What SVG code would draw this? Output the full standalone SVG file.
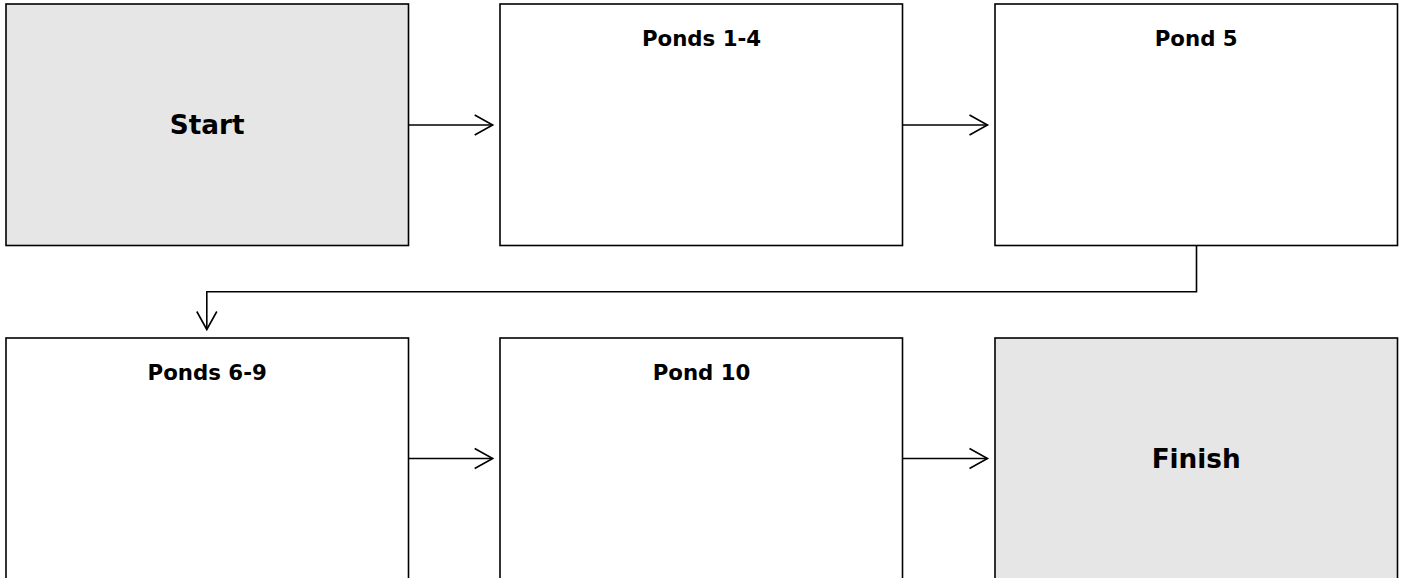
<svg xmlns="http://www.w3.org/2000/svg" width="1402" height="578" viewBox="0 0 1402 578">
  <style>
    .box { fill: #ffffff; stroke: #000000; stroke-width: 1.6; }
    .term { fill: #e6e6e6; }
    .title { font-family: "DejaVu Sans", Verdana, sans-serif; font-weight: bold; font-size: 21.3px; text-anchor: middle; fill: #000; }
    .big { font-family: "DejaVu Sans", Verdana, sans-serif; font-weight: bold; font-size: 26.3px; text-anchor: middle; fill: #000; }
    .conn { fill: none; stroke: #000; stroke-width: 1.6; marker-end: url(#arrow); }
  </style>
  <defs>
    <marker id="arrow" markerUnits="userSpaceOnUse" markerWidth="22" markerHeight="24" refX="18.5" refY="11" orient="auto" overflow="visible">
      <path d="M0.5,1 L18.5,11 L0.5,21" fill="none" stroke="#000" stroke-width="1.6"/>
    </marker>
  </defs>
  <rect width="1402" height="578" fill="#ffffff"/>

  <g id="start">
    <rect class="box term" x="6" y="4" width="402.5" height="241.5"/>
    <text class="big" x="207.2" y="134.2">Start</text>
  </g>
  <g id="ponds1-4">
    <rect class="box" x="500" y="4" width="402.5" height="241.5"/>
    <text class="title" x="701.5" y="45.7">Ponds 1-4</text>
  </g>
  <g id="pond5">
    <rect class="box" x="995" y="4" width="402.5" height="241.5"/>
    <text class="title" x="1196.2" y="45.7">Pond 5</text>
  </g>
  <g id="ponds6-9">
    <rect class="box" x="6" y="338" width="402.5" height="241.5"/>
    <text class="title" x="207.2" y="379.7">Ponds 6-9</text>
  </g>
  <g id="pond10">
    <rect class="box" x="500" y="338" width="402.5" height="241.5"/>
    <text class="title" x="701.5" y="379.7">Pond 10</text>
  </g>
  <g id="finish">
    <rect class="box term" x="995" y="338" width="402.5" height="241.5"/>
    <text class="big" x="1196.2" y="467.7">Finish</text>
  </g>

  <g id="connectors">
    <path class="conn" d="M408.5,125 L492.7,125"/>
    <path class="conn" d="M902.5,125 L987.5,125"/>
    <path class="conn" d="M1196.5,245.5 L1196.5,291.7 L206.8,291.7 L206.8,329.5"/>
    <path class="conn" d="M408.5,458.5 L492.7,458.5"/>
    <path class="conn" d="M902.5,458.5 L987.5,458.5"/>
  </g>
</svg>
